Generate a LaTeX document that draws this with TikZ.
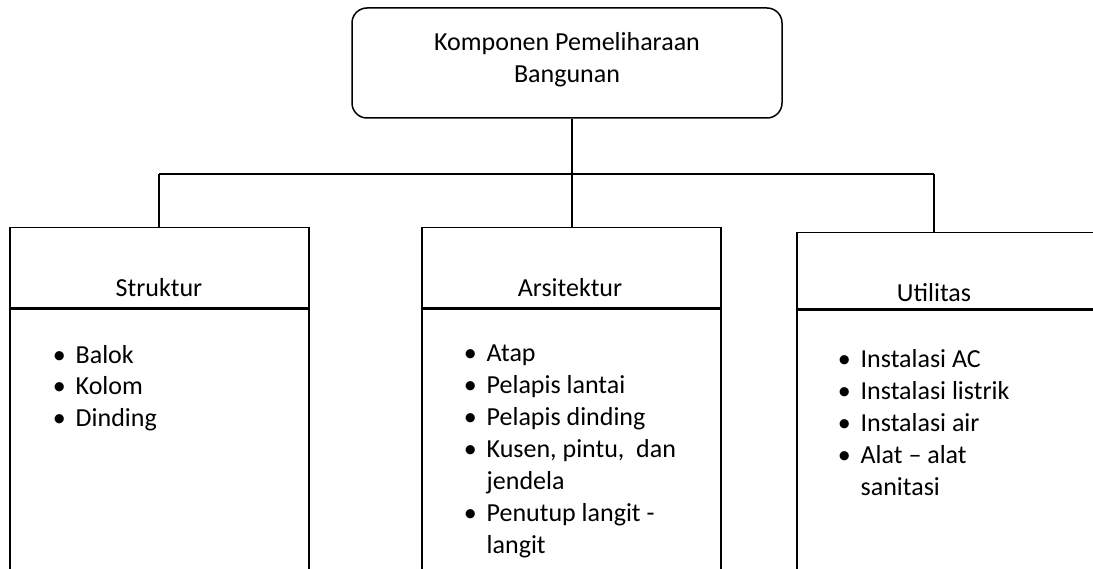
\documentclass[tikz,border=0pt]{standalone}
\usepackage{fontspec}
\setmainfont{Carlito}
\usepackage{tikz}

\tikzset{
  topbox/.style={draw, rounded corners=15pt, minimum width=430pt, minimum height=110pt, align=center, inner sep=0pt, text depth=12pt},
  hdr/.style={draw, anchor=north west, minimum height=80pt},
  body/.style={draw, anchor=north west, minimum height=320pt},
  head/.style={anchor=base, inner sep=0pt},
  items/.style={anchor=base west, inner sep=0pt}
}

\newcommand{\tx}{\fontsize{26}{32}\selectfont}

\begin{document}
\begin{tikzpicture}[x=1pt, y=-1pt, line width=1.5pt, font=\tx]
    \useasboundingbox (0,0) rectangle (1093,569);
    \clip (0,0) rectangle (1093,569);

    \node[topbox] (komp) at (567,63) {Komponen Pemeliharaan\\Bangunan};

    \node[hdr, minimum width=299pt] (struk) at (9,227) {};
    \node[body, minimum width=299pt] (strukb) at (struk.south west) {};
    \node[hdr, minimum width=299pt] (arsi) at (421,227) {};
    \node[body, minimum width=299pt] (arsib) at (arsi.south west) {};
    \node[hdr, minimum width=320pt, minimum height=76pt] (util) at (796,232) {};
    \node[body, minimum width=320pt] (utilb) at (util.south west) {};

    \node[head] (t1) at (159,297) {Struktur};
    \node[head] (t2) at (570,297) {Arsitektur};
    \node[head] (t3) at (934,302) {Utilitas};

    \node[items] (l1) at (52,363) {\begin{tabular}[t]{@{}c@{\hspace{10pt}}l@{}}
        \textbullet & Balok\\
        \textbullet & Kolom\\
        \textbullet & Dinding
    \end{tabular}};
    \node[items] (l2) at (463,362) {\begin{tabular}[t]{@{}c@{\hspace{10pt}}l@{}}
        \textbullet & Atap\\
        \textbullet & Pelapis lantai\\
        \textbullet & Pelapis dinding\\
        \textbullet & Kusen, pintu,\ \ dan\\
                    & jendela\\
        \textbullet & Penutup langit -\\
                    & langit
    \end{tabular}};
    \node[items] (l3) at (837,368) {\begin{tabular}[t]{@{}c@{\hspace{10pt}}l@{}}
        \textbullet & Instalasi AC\\
        \textbullet & Instalasi listrik\\
        \textbullet & Instalasi air\\
        \textbullet & Alat -- alat\\
                    & sanitasi
    \end{tabular}};

    \coordinate (cab) at (572,174);
    \coordinate (kiri) at (159,174);
    \coordinate (kanan) at (934,174);
    \draw[-] (komp.south -| cab) -- (cab);
    \draw[-] (kiri) -- (kanan);
    \draw[-] (kiri) -- (kiri |- struk.north);
    \draw[-] (cab) -- (cab |- arsi.north);
    \draw[-] (kanan) -- (kanan |- util.north);
\end{tikzpicture}
\end{document}
